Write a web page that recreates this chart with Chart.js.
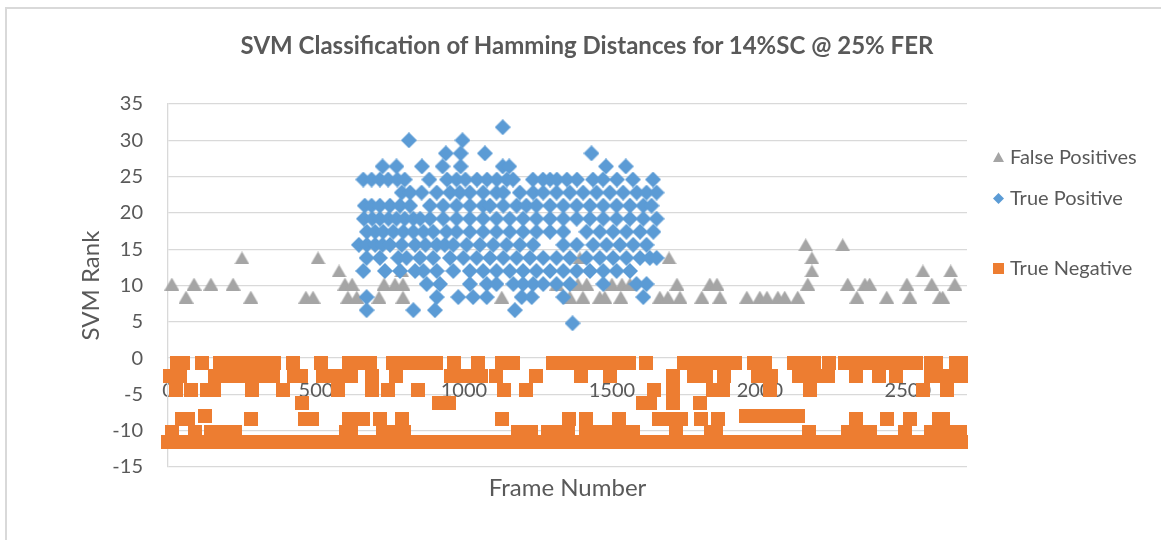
<!DOCTYPE html>
<html>
<head>
<meta charset="utf-8">
<title>SVM Classification of Hamming Distances</title>
<script src="https://cdn.jsdelivr.net/npm/chart.js@4.4.1/dist/chart.umd.min.js"></script>
<style>
  html, body { margin: 0; padding: 0; background: #fff; }
  #wrap { position: relative; width: 1161px; height: 540px; overflow: hidden; background: #fff; }
  #frame { position: absolute; left: 5px; top: 7px; width: 1200px; height: 600px;
           border-left: 2px solid #d9d9d9; border-top: 2px solid #d9d9d9; }
  #chart { position: absolute; left: 0; top: 0; }
  #title { position: absolute; left: 0; top: 30px; width: 1174px; text-align: center;
           font: bold 24px Lato, "Open Sans", sans-serif; line-height: 30px; color: #595959; }
</style>
</head>
<body>
<div id="wrap">
  <div id="frame"></div>
  <canvas id="chart" width="1161" height="540"></canvas>
  <div id="title">SVM Classification of Hamming Distances for 14%SC @ 25% FER</div>
</div>
<script>
// ---- axes ----
const X_MIN = 0, X_MAX = 2700;
const Y_MIN = -15, Y_MAX = 35;
const xTickValues = [0, 500, 1000, 1500, 2000, 2500];
const yTickValues = [-15, -10, -5, 0, 5, 10, 15, 20, 25, 30, 35];
const xTitle = 'Frame Number';
const yTitle = 'SVM Rank';
const seriesNames = ['False Positives', 'True Positive', 'True Negative'];

// ---- False Positives: frame numbers at each SVM rank ----
const fpRank15_6 = [2155, 2280];
const fpRank13_8 = [250, 507, 1392, 1693, 2176];
const fpRank12_0 = [578, 790, 2176, 2551, 2645];
const fpRank10_2 = [13, 88, 145, 220, 598, 622, 730, 767, 794, 1314, 1385, 1415, 1500, 1534, 1561,
                    1720, 1831, 1855, 2162, 2297, 2355, 2371, 2497, 2581, 2659];
const fpRank8_4 = [61, 280, 466, 490, 608, 638, 713, 794, 1128, 1358, 1402, 1459, 1476, 1530, 1662,
                   1689, 1730, 1804, 1865, 1956, 2000, 2024, 2061, 2084, 2128, 2328, 2429, 2507, 2608, 2618];

// ---- True Positives ----
const tpRank31_8 = [1131];
const tpRank30_0 = [814, 995];
const tpRank28_2 = [939, 989, 1071, 1431];
const tpRank26_4 = [725, 772, 858, 928, 989, 1131, 1153, 1480, 1547];
const tpRank24_6 = [660, 688, 716, 744, 775, 800, 883, 943, 975, 1005, 1044, 1078, 1111, 1145, 1166,
                    1233, 1267, 1291, 1314, 1348, 1382, 1436, 1470, 1517, 1571, 1639];
const tpRank22_8 = [790, 818, 857, 908, 953, 986, 1020, 1065, 1110, 1133, 1189, 1234, 1268, 1313, 1358,
                    1403, 1448, 1493, 1538, 1584, 1617, 1651];
const tpRank21_0 = [665, 688, 716, 750, 784, 818, 885, 930, 975, 1020, 1065, 1088, 1133, 1178, 1211,
                    1245, 1291, 1336, 1381, 1426, 1471, 1516, 1561, 1606, 1634];
const tpRank19_2 = [662, 690, 716, 745, 772, 800, 829, 852, 885, 930, 975, 1020, 1065, 1110, 1155, 1200,
                    1245, 1291, 1336, 1381, 1426, 1471, 1516, 1561, 1606, 1651];
const tpRank17_4 = [672, 700, 727, 761, 795, 829, 863, 896, 941, 975, 1020, 1065, 1110, 1155, 1200, 1245,
                    1291, 1336, 1414, 1459, 1504, 1549, 1595, 1640];
const tpRank15_6 = [645, 672, 700, 725, 750, 790, 835, 870, 908, 935, 964, 1009, 1054, 1099, 1144, 1189,
                    1234, 1336, 1381, 1437, 1482, 1527, 1572, 1617];
const tpRank13_8 = [671, 716, 778, 806, 851, 896, 953, 998, 1043, 1088, 1133, 1178, 1223, 1268, 1313,
                    1358, 1414, 1459, 1504, 1549, 1595, 1628, 1651];
const tpRank12_0 = [660, 733, 784, 835, 863, 908, 964, 1020, 1065, 1110, 1155, 1200, 1245, 1291, 1336,
                    1381, 1426, 1471, 1516, 1561];
const tpRank10_2 = [874, 919, 1020, 1077, 1110, 1167, 1200, 1234, 1268, 1313, 1358, 1471, 1583, 1617];
const tpRank8_4 = [671, 908, 981, 1031, 1077, 1195, 1229, 1336, 1606];
const tpRank6_6 = [671, 829, 902, 1172];
const tpRank4_8 = [1367];

// ---- True Negatives ----
const tnRankM0_7 = [32, 52, 115, 177, 209, 243, 277, 311, 357, 421, 517, 610, 642, 681, 762, 794, 828, 861,
                    907, 966, 1049, 1127, 1167, 1302, 1334, 1368, 1402, 1444, 1491, 1523, 1557, 1616, 1745,
                    1777, 1811, 1845, 1878, 1917, 1981, 2019, 2116, 2149, 2183, 2232, 2289, 2321, 2354, 2388,
                    2422, 2456, 2490, 2528, 2579, 2596, 2664, 2680];
const tnRankM2_5 = [8, 39, 160, 193, 226, 260, 294, 328, 356, 427, 448, 525, 557, 591, 620, 691, 772, 958,
                    990, 1024, 1057, 1110, 1243, 1397, 1493, 1706, 1779, 1819, 1878, 1995, 2039, 2131, 2164,
                    2198, 2231, 2324, 2403, 2461, 2579, 2611, 2645, 2680];
const tnRankM4_4 = [27, 79, 133, 157, 285, 388, 574, 691, 745, 846, 1135, 1211, 1643, 1706, 1843, 1877,
                    2034, 2169, 2551, 2633];
const tnRankM6_2 = [454, 917, 948, 1606, 1630, 1706, 1797];
const tnRankM8_0 = [125, 1954, 1986, 2020, 2054, 2088, 2130];
const tnRankM8_4 = [46, 66, 280, 464, 488, 613, 660, 716, 792, 1127, 1356, 1414, 1525, 1660, 1696, 1732,
                    1800, 1859, 2324, 2430, 2506, 2606, 2620];
const tnRankM10_2 = [12, 90, 144, 176, 206, 228, 600, 620, 728, 760, 796, 1184, 1225, 1285, 1317, 1351,
                     1414, 1458, 1490, 1524, 1573, 1718, 1836, 1853, 2165, 2299, 2331, 2373, 2490, 2579,
                     2611, 2645, 2677];
const tnRankM11_5 = [0, 30, 60, 95, 125, 160, 190, 225, 255, 290, 320, 355, 385, 420, 450, 485, 515, 550,
                     580, 615, 645, 680, 710, 745, 775, 810, 840, 875, 905, 940, 970, 1005, 1035, 1070,
                     1100, 1135, 1165, 1200, 1230, 1265, 1295, 1330, 1360, 1395, 1425, 1460, 1490, 1525,
                     1555, 1590, 1620, 1655, 1685, 1720, 1750, 1785, 1815, 1850, 1880, 1915, 1945, 1980,
                     2010, 2045, 2075, 2110, 2140, 2175, 2205, 2240, 2270, 2305, 2335, 2370, 2400, 2435,
                     2465, 2500, 2530, 2565, 2595, 2630, 2660, 2680];

// pair each rank with the frames recorded at it
function toPoints(groups) {
  const pts = [];
  groups.forEach(([rank, frames]) => frames.forEach(f => pts.push({ x: f, y: rank })));
  return pts;
}

const fpPoints = toPoints([[15.6, fpRank15_6], [13.8, fpRank13_8], [12.0, fpRank12_0],
                           [10.2, fpRank10_2], [8.4, fpRank8_4]]);
const tpPoints = toPoints([[31.8, tpRank31_8], [30.0, tpRank30_0], [28.2, tpRank28_2], [26.4, tpRank26_4],
                           [24.6, tpRank24_6], [22.8, tpRank22_8], [21.0, tpRank21_0], [19.2, tpRank19_2],
                           [17.4, tpRank17_4], [15.6, tpRank15_6], [13.8, tpRank13_8], [12.0, tpRank12_0],
                           [10.2, tpRank10_2], [8.4, tpRank8_4], [6.6, tpRank6_6], [4.8, tpRank4_8]]);
const tnPoints = toPoints([[-0.7, tnRankM0_7], [-2.5, tnRankM2_5], [-4.4, tnRankM4_4], [-6.2, tnRankM6_2],
                           [-8.0, tnRankM8_0], [-8.4, tnRankM8_4], [-10.2, tnRankM10_2], [-11.5, tnRankM11_5]]);

// ---- styling ----
const GREY = '#A5A5A5', BLUE = '#5B9BD5', ORANGE = '#ED7D31', TEXT = '#595959', GRID = '#d9d9d9';
const FONT = 'Lato, "Open Sans", sans-serif';

// marker images, centred on their bounding box
function marker(shape, w, h, color) {
  const c = document.createElement('canvas');
  c.width = w; c.height = h;
  const g = c.getContext('2d');
  g.fillStyle = color;
  g.beginPath();
  if (shape === 'triangle') { g.moveTo(w / 2, 0); g.lineTo(w, h); g.lineTo(0, h); }
  else if (shape === 'diamond') { g.moveTo(w / 2, 0); g.lineTo(w, h / 2); g.lineTo(w / 2, h); g.lineTo(0, h / 2); }
  else { g.rect(0, 0, w, h); }
  g.closePath();
  g.fill();
  return c;
}
const triMark = marker('triangle', 15, 13, GREY);
const diaMark = marker('diamond', 16, 16, BLUE);
const sqMark = marker('square', 14, 14, ORANGE);
const legendMarks = [marker('triangle', 11, 10, GREY), marker('diamond', 11, 11, BLUE), marker('square', 11, 11, ORANGE)];
const legendY = [157, 198, 268];

const sideLegend = {
  id: 'sideLegend',
  afterDraw(chart) {
    const ctx = chart.ctx;
    ctx.save();
    ctx.font = '20px ' + FONT;
    ctx.fillStyle = TEXT;
    ctx.textBaseline = 'middle';
    ctx.textAlign = 'left';
    seriesNames.forEach((name, i) => {
      const m = legendMarks[i];
      ctx.drawImage(m, Math.round(998 - m.width / 2), Math.round(legendY[i] - m.height / 2));
      ctx.fillText(name, 1010, legendY[i] + 1);
    });
    ctx.restore();
  }
};

const tickFont = { family: FONT, size: 20 };
const titleFont = { family: FONT, size: 24 };

new Chart(document.getElementById('chart'), {
  type: 'scatter',
  data: {
    datasets: [
      { label: seriesNames[1], data: tpPoints, pointStyle: diaMark, pointRadius: 8, order: 0, clip: false },
      { label: seriesNames[0], data: fpPoints, pointStyle: triMark, pointRadius: 8, order: 1, clip: false },
      { label: seriesNames[2], data: tnPoints, pointStyle: sqMark, pointRadius: 8, order: 2, clip: false }
    ]
  },
  options: {
    responsive: false,
    animation: false,
    events: [],
    layout: { padding: { top: 104, right: 194, left: 0, bottom: 0 } },
    plugins: { legend: { display: false }, tooltip: { enabled: false }, title: { display: false } },
    scales: {
      x: {
        type: 'linear', position: 'bottom', min: X_MIN, max: X_MAX,
        grid: { display: false, drawTicks: false },
        border: { display: false },
        ticks: { display: false },
        title: { display: true, text: xTitle, color: TEXT, font: titleFont, padding: { top: 0, bottom: 37 } },
        afterFit(scale) { scale.height = 73; }
      },
      xLabels: {
        type: 'linear', axis: 'x', position: { y: 0 }, min: X_MIN, max: X_MAX, z: 1,
        grid: { display: false, drawTicks: false },
        border: { display: false },
        afterBuildTicks(scale) { scale.ticks = xTickValues.map(v => ({ value: v })); },
        ticks: { color: TEXT, font: tickFont, padding: 20, maxRotation: 0, autoSkip: false,
                 callback: v => String(v) }
      },
      y: {
        type: 'linear', position: 'left', min: Y_MIN, max: Y_MAX,
        afterBuildTicks(scale) { scale.ticks = yTickValues.map(v => ({ value: v })); },
        grid: { color: GRID, lineWidth: 1.3, drawTicks: false },
        border: { display: true, color: GRID, width: 1.3 },
        ticks: { color: TEXT, font: tickFont, padding: 25, callback: v => String(v) },
        title: { display: true, text: yTitle, color: TEXT, font: titleFont, padding: { top: 77, bottom: 0 } },
        afterFit(scale) { scale.width = 168; }
      }
    }
  },
  plugins: [sideLegend]
});
</script>
</body>
</html>
